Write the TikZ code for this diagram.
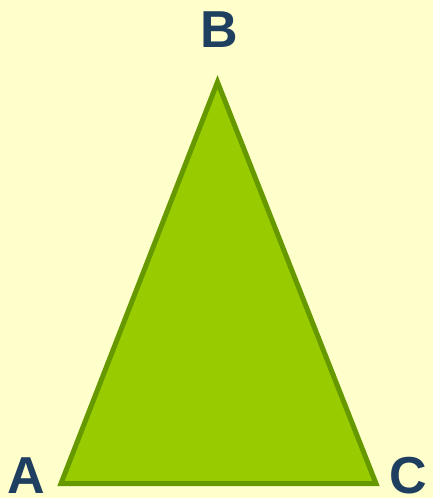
\documentclass[tikz,border=0pt]{standalone}
\usepackage{fontspec}
\setmainfont{Liberation Sans}
\definecolor{bgyellow}{HTML}{FFFFCC}
\definecolor{trifill}{HTML}{99CC00}
\definecolor{tristroke}{HTML}{669900}
\definecolor{labelblue}{HTML}{1F3F60}
\begin{document}
\begin{tikzpicture}[x=1pt,y=-1pt,
  lbl/.style={anchor=base,inner sep=0pt,text=labelblue,font=\fontsize{52}{52}\selectfont\bfseries},
  tri/.style={fill=trifill,draw=tristroke,line width=5pt,line join=miter}]
  \fill[bgyellow] (0,0) rectangle (433,498);
  \useasboundingbox (0,0) rectangle (433,498);
  \coordinate (A) at (61,483.5);
  \coordinate (B) at (217.5,82);
  \coordinate (C) at (376,483.5);
  \draw[tri] (A) -- (B) -- (C) -- cycle;
  \node[lbl] (la) at (26,493) {A};
  \node[lbl] (lb) at (219.5,47) {B};
  \node[lbl] (lc) at (408,493) {C};
\end{tikzpicture}
\end{document}
